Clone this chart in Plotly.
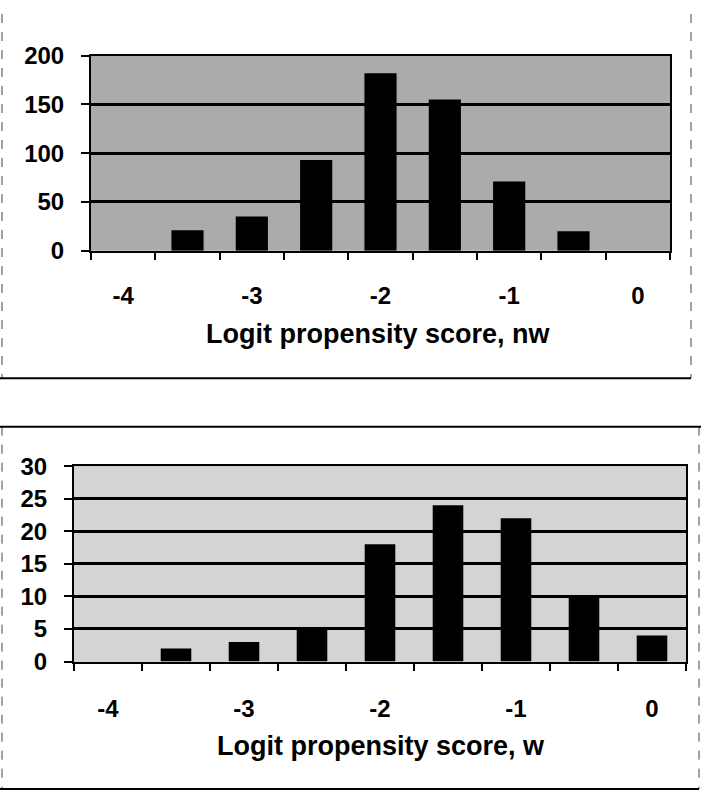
import plotly.graph_objects as go

# ---- data ----
scores = [-4, -3.5, -3, -2.5, -2, -1.5, -1, -0.5, 0]
counts_nw = [0, 21, 35, 93, 182, 155, 71, 20, 0]
counts_w = [0, 2, 3, 5, 18, 24, 22, 10, 4]
label_vals = [-4, -3, -2, -1, 0]
label_text = ["-4", "-3", "-2", "-1", "0"]
boundaries = [-4.25 + 0.5 * i for i in range(10)]
title_nw = "Logit propensity score, nw"
title_w = "Logit propensity score, w"

W, H = 707, 804
FONT = "Liberation Sans, Arial, sans-serif"

def px(x):
    return x / W

def py(y):
    return 1 - y / H

fig = go.Figure()
fig.add_trace(go.Bar(x=scores, y=counts_nw, width=0.25, marker=dict(color="black", line=dict(width=0)),
                     xaxis="x", yaxis="y", showlegend=False))
fig.add_trace(go.Bar(x=scores, y=counts_w, width=0.225, marker=dict(color="black", line=dict(width=0)),
                     xaxis="x2", yaxis="y2", showlegend=False))

tickfont = dict(family=FONT, size=24, color="black", weight="bold")

def main_x(domain, anchor, standoff):
    return dict(domain=domain, anchor=anchor, range=[-4.25, 0.25], tickmode="array",
                tickvals=label_vals, ticktext=label_text, ticks="", tickfont=tickfont,
                ticklabelstandoff=standoff,
                minor=dict(tickmode="array", tickvals=boundaries, ticks="outside", ticklen=7,
                           tickwidth=2, tickcolor="black", showgrid=False),
                showline=True, linewidth=2, linecolor="black",
                mirror=True, showgrid=False, zeroline=False, fixedrange=True)

def main_y(domain, anchor, rng, dtick, standoff):
    return dict(domain=domain, anchor=anchor, range=rng, dtick=dtick, tick0=0,
                ticks="outside", ticklen=8, tickwidth=2, tickcolor="black",
                showline=True, linewidth=2, linecolor="black", mirror=True,
                showgrid=True, gridcolor="black", gridwidth=3, zeroline=False,
                tickfont=tickfont, ticklabelstandoff=standoff, fixedrange=True)

top_x = [px(91), px(670)]
top_y = [py(245), py(43)]
bot_x = [px(74), px(686)]
bot_y = [py(670), py(468)]

fig.update_layout(
    width=W, height=H, margin=dict(l=0, r=0, t=0, b=0),
    paper_bgcolor="white", plot_bgcolor="#ababab",
    bargap=0.5,
    xaxis=main_x(top_x, "y", 22),
    yaxis=main_y(top_y, "x", [0, 200], 50, 12),
    xaxis2=main_x(bot_x, "y2", 25),
    yaxis2=main_y(bot_y, "x2", [0, 30], 5, 12),
)

# lighter background for the lower plot area
fig.add_shape(type="rect", xref="x2 domain", yref="y2 domain", x0=0, x1=1, y0=0, y1=1,
              fillcolor="#d4d4d4", line=dict(width=0), layer="below")

# axis titles
fig.add_annotation(text=title_nw, x=px(378), y=py(331), xref="paper", yref="paper",
                   showarrow=False, xanchor="center", yanchor="middle",
                   font=dict(family=FONT, size=27, color="black", weight="bold"))
fig.add_annotation(text=title_w, x=px(381), y=py(757), xref="paper", yref="paper",
                   showarrow=False, xanchor="center", yanchor="middle",
                   font=dict(family=FONT, size=27, color="black", weight="bold"))

# chart frames
dash = dict(color="#444444", width=1, dash="dash")
solid = dict(color="black", width=2)
shapes = [
    (2, 0, 2, 377, dash), (691, 0, 691, 377, dash), (0, 377, 691, 377, solid),
    (2, 427, 2, 802, dash), (699, 427, 699, 802, dash),
    (0, 427, 701, 427, solid), (0, 802, 699, 802, solid),
]
for x0, y0, x1, y1, ln in shapes:
    fig.add_shape(type="line", xref="paper", yref="paper", x0=px(x0), y0=py(y0),
                  x1=px(x1), y1=py(y1), line=ln)

fig.write_html("out.html")
